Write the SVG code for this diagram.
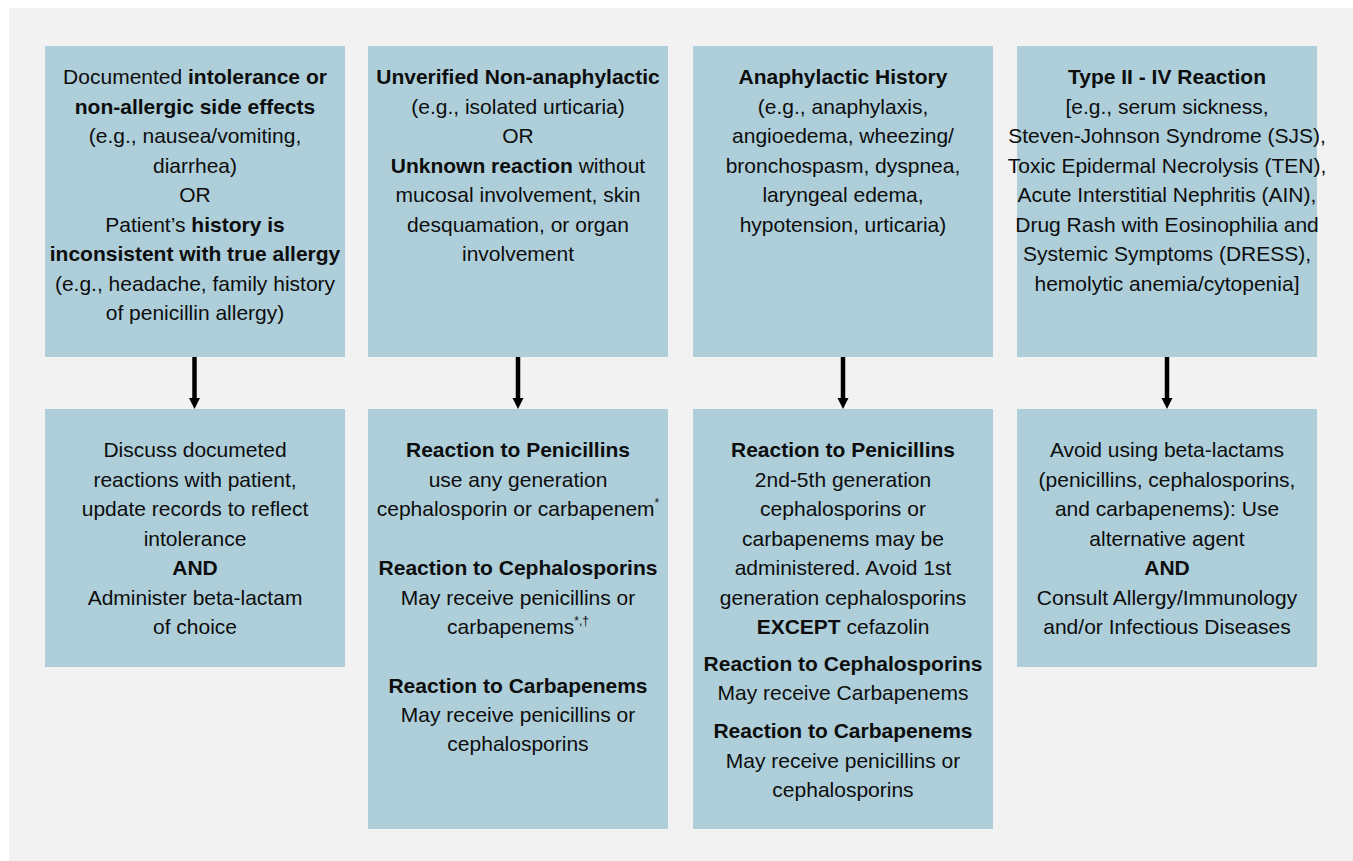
<svg xmlns="http://www.w3.org/2000/svg" width="1353" height="861" viewBox="0 0 1353 861">
  <defs>
    <style>
      .box { fill: #aecfda; }
      .t { font-family: "Liberation Sans", Arial, sans-serif; font-size: 21px; fill: #0d0d0d; text-anchor: middle; }
      .b { font-weight: bold; }
      .sup { font-size: 12px; }
      .arrow { stroke: #000; stroke-width: 4.5; fill: none; marker-end: url(#head); }
    </style>
    <!-- arrowhead drawn along +x so orient="auto" turns it with the line -->
    <marker id="head" markerUnits="userSpaceOnUse" markerWidth="12" markerHeight="12" viewBox="0 0 12 12" refX="0" refY="6" orient="auto">
      <path d="M0,0.5 L11,6 L0,11.5 Z" fill="#000"/>
    </marker>
  </defs>

  <!-- canvas -->
  <rect x="0" y="0" width="1353" height="861" fill="#ffffff"/>
  <rect x="9" y="8" width="1344" height="853" fill="#f2f2f2"/>

  <!-- top row: reaction categories -->
  <g id="intolerance">
    <rect class="box" x="45" y="46" width="300" height="311"/>
    <text class="t" x="195" y="84">Documented <tspan class="b">intolerance or</tspan></text>
    <text class="t b" x="195" y="113.5">non-allergic side effects</text>
    <text class="t" x="195" y="143">(e.g., nausea/vomiting,</text>
    <text class="t" x="195" y="172.5">diarrhea)</text>
    <text class="t" x="195" y="202">OR</text>
    <text class="t" x="195" y="231.5">Patient’s <tspan class="b">history is</tspan></text>
    <text class="t b" x="195" y="261">inconsistent with true allergy</text>
    <text class="t" x="195" y="290.5">(e.g., headache, family history</text>
    <text class="t" x="195" y="320">of penicillin allergy)</text>
  </g>

  <g id="non-anaphylactic">
    <rect class="box" x="368" y="46" width="300" height="311"/>
    <text class="t b" x="518" y="84">Unverified Non-anaphylactic</text>
    <text class="t" x="518" y="113.5">(e.g., isolated urticaria)</text>
    <text class="t" x="518" y="143">OR</text>
    <text class="t" x="518" y="172.5"><tspan class="b">Unknown reaction</tspan> without</text>
    <text class="t" x="518" y="202">mucosal involvement, skin</text>
    <text class="t" x="518" y="231.5">desquamation, or organ</text>
    <text class="t" x="518" y="261">involvement</text>
  </g>

  <g id="anaphylactic">
    <rect class="box" x="693" y="46" width="300" height="311"/>
    <text class="t b" x="843" y="84">Anaphylactic History</text>
    <text class="t" x="843" y="113.5">(e.g., anaphylaxis,</text>
    <text class="t" x="843" y="143">angioedema, wheezing/</text>
    <text class="t" x="843" y="172.5">bronchospasm, dyspnea,</text>
    <text class="t" x="843" y="202">laryngeal edema,</text>
    <text class="t" x="843" y="231.5">hypotension, urticaria)</text>
  </g>

  <g id="type-ii-iv">
    <rect class="box" x="1017" y="46" width="300" height="311"/>
    <text class="t b" x="1167" y="84">Type II - IV Reaction</text>
    <text class="t" x="1167" y="113.5">[e.g., serum sickness,</text>
    <text class="t" x="1167" y="143">Steven-Johnson Syndrome (SJS),</text>
    <text class="t" x="1167" y="172.5">Toxic Epidermal Necrolysis (TEN),</text>
    <text class="t" x="1167" y="202">Acute Interstitial Nephritis (AIN),</text>
    <text class="t" x="1167" y="231.5">Drug Rash with Eosinophilia and</text>
    <text class="t" x="1167" y="261">Systemic Symptoms (DRESS),</text>
    <text class="t" x="1167" y="290.5">hemolytic anemia/cytopenia]</text>
  </g>

  <!-- bottom row: recommendations -->
  <g id="rec-intolerance">
    <rect class="box" x="45" y="409" width="300" height="258"/>
    <text class="t" x="195" y="457">Discuss documeted</text>
    <text class="t" x="195" y="486.5">reactions with patient,</text>
    <text class="t" x="195" y="516">update records to reflect</text>
    <text class="t" x="195" y="545.5">intolerance</text>
    <text class="t b" x="195" y="575">AND</text>
    <text class="t" x="195" y="604.5">Administer beta-lactam</text>
    <text class="t" x="195" y="634">of choice</text>
  </g>

  <g id="rec-non-anaphylactic">
    <rect class="box" x="368" y="409" width="300" height="420"/>
    <text class="t b" x="518" y="457">Reaction to Penicillins</text>
    <text class="t" x="518" y="486.5">use any generation</text>
    <text class="t" x="518" y="516">cephalosporin or carbapenem<tspan class="sup" dy="-9">*</tspan></text>
    <text class="t b" x="518" y="575">Reaction to Cephalosporins</text>
    <text class="t" x="518" y="604.5">May receive penicillins or</text>
    <text class="t" x="518" y="634">carbapenems<tspan class="sup" dy="-9">*,†</tspan></text>
    <text class="t b" x="518" y="692.5">Reaction to Carbapenems</text>
    <text class="t" x="518" y="722">May receive penicillins or</text>
    <text class="t" x="518" y="751">cephalosporins</text>
  </g>

  <g id="rec-anaphylactic">
    <rect class="box" x="693" y="409" width="300" height="420"/>
    <text class="t b" x="843" y="457">Reaction to Penicillins</text>
    <text class="t" x="843" y="486.5">2nd-5th generation</text>
    <text class="t" x="843" y="516">cephalosporins or</text>
    <text class="t" x="843" y="545.5">carbapenems may be</text>
    <text class="t" x="843" y="575">administered. Avoid 1st</text>
    <text class="t" x="843" y="604.5">generation cephalosporins</text>
    <text class="t" x="843" y="634"><tspan class="b">EXCEPT</tspan> cefazolin</text>
    <text class="t b" x="843" y="671">Reaction to Cephalosporins</text>
    <text class="t" x="843" y="699.5">May receive Carbapenems</text>
    <text class="t b" x="843" y="738">Reaction to Carbapenems</text>
    <text class="t" x="843" y="767.5">May receive penicillins or</text>
    <text class="t" x="843" y="797">cephalosporins</text>
  </g>

  <g id="rec-type-ii-iv">
    <rect class="box" x="1017" y="409" width="300" height="258"/>
    <text class="t" x="1167" y="457">Avoid using beta-lactams</text>
    <text class="t" x="1167" y="486.5">(penicillins, cephalosporins,</text>
    <text class="t" x="1167" y="516">and carbapenems): Use</text>
    <text class="t" x="1167" y="545.5">alternative agent</text>
    <text class="t b" x="1167" y="575">AND</text>
    <text class="t" x="1167" y="604.5">Consult Allergy/Immunology</text>
    <text class="t" x="1167" y="634">and/or Infectious Diseases</text>
  </g>

  <!-- connectors -->
  <g id="connectors">
    <line class="arrow" x1="194.5" y1="357" x2="194.5" y2="398"/>
    <line class="arrow" x1="518" y1="357" x2="518" y2="398"/>
    <line class="arrow" x1="843" y1="357" x2="843" y2="398"/>
    <line class="arrow" x1="1167" y1="357" x2="1167" y2="398"/>
  </g>
</svg>
